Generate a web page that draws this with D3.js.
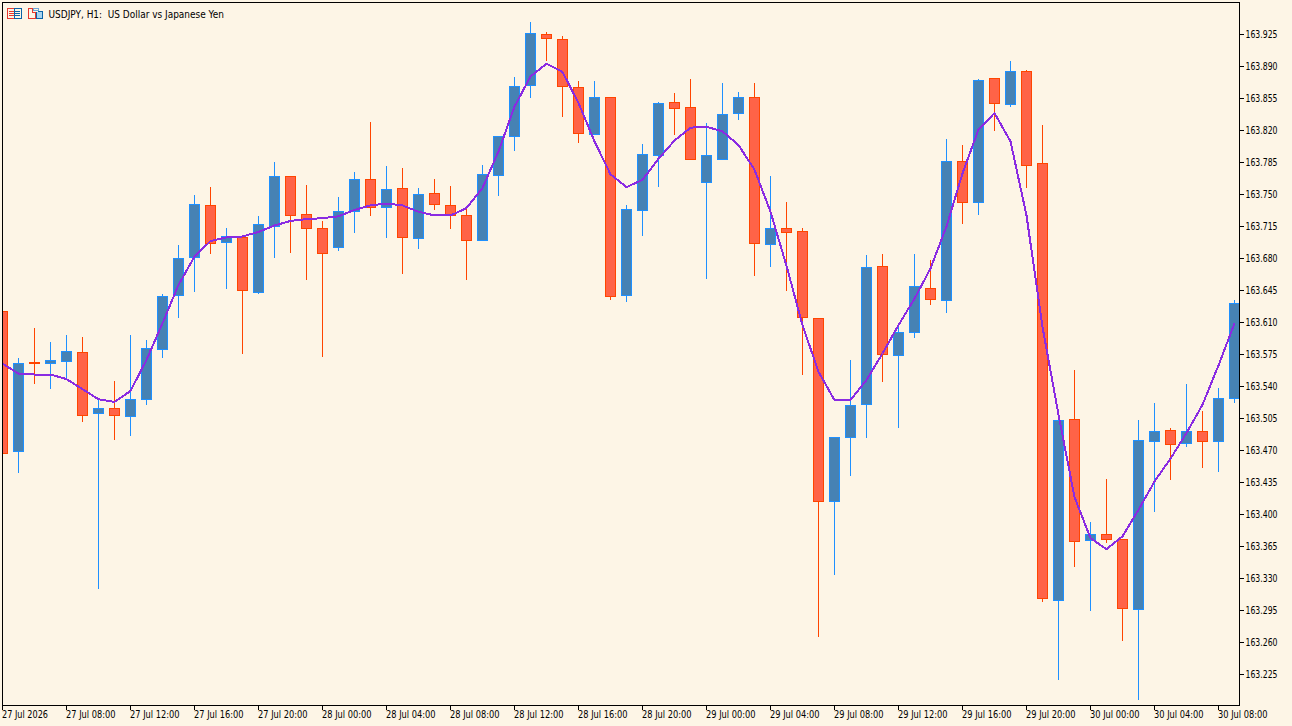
<!DOCTYPE html>
<html>
<head>
  <meta charset="utf-8">
  <title>USDJPY, H1</title>
  <script src="https://d3js.org/d3.v7.min.js"></script>
  <style>
    html, body { margin: 0; padding: 0; background: #fdf5e6; overflow: hidden; }
    svg { display: block; }
    text { font-family: "DejaVu Sans", sans-serif; font-size: 10px; fill: #000; white-space: pre; }
    .axis path, .axis line { stroke: #000; shape-rendering: crispEdges; }
  </style>
</head>
<body>
  <svg id="chart" width="1292" height="726"></svg>
  <script>
    var title = 'USDJPY, H1:  US Dollar vs Japanese Yen';

    // one bar per hour, oldest first
    var open = [163.621,163.468,163.565,163.564,163.566,163.576,163.509,163.515,163.506,163.525,163.579,163.638,163.680,163.737,163.696,163.702,163.642,163.714,163.769,163.727,163.712,163.691,163.730,163.765,163.735,163.755,163.701,163.750,163.737,163.726,163.699,163.770,163.812,163.868,163.924,163.918,163.866,163.815,163.855,163.638,163.731,163.792,163.850,163.844,163.762,163.787,163.838,163.855,163.694,163.712,163.708,163.613,163.413,163.483,163.519,163.670,163.573,163.598,163.646,163.633,163.785,163.740,163.876,163.847,163.883,163.783,163.305,163.503,163.371,163.377,163.372,163.295,163.479,163.491,163.477,163.490,163.479,163.526];
    var high = [163.621,163.570,163.602,163.587,163.595,163.593,163.524,163.544,163.595,163.589,163.640,163.693,163.748,163.757,163.712,163.702,163.725,163.784,163.769,163.759,163.719,163.746,163.773,163.828,163.780,163.777,163.755,163.765,163.758,163.734,163.781,163.812,163.877,163.937,163.926,163.922,163.872,163.872,163.855,163.737,163.804,163.850,163.859,163.875,163.827,163.870,163.861,163.870,163.769,163.740,163.712,163.613,163.483,163.567,163.682,163.683,163.608,163.683,163.677,163.809,163.803,163.875,163.876,163.894,163.885,163.824,163.509,163.556,163.390,163.437,163.372,163.502,163.520,163.493,163.541,163.512,163.537,163.633];
    var low = [163.466,163.445,163.542,163.537,163.549,163.501,163.318,163.481,163.485,163.519,163.571,163.614,163.643,163.684,163.646,163.575,163.641,163.680,163.685,163.656,163.572,163.688,163.707,163.726,163.702,163.663,163.690,163.733,163.712,163.656,163.699,163.748,163.797,163.855,163.896,163.834,163.806,163.815,163.634,163.632,163.704,163.758,163.815,163.787,163.657,163.787,163.831,163.660,163.670,163.644,163.552,163.266,163.333,163.442,163.483,163.544,163.494,163.593,163.629,163.620,163.717,163.727,163.819,163.845,163.757,163.304,163.218,163.342,163.294,163.368,163.261,163.197,163.402,163.437,163.473,163.450,163.446,163.521];
    var close = [163.466,163.564,163.564,163.567,163.577,163.507,163.515,163.507,163.525,163.580,163.637,163.679,163.738,163.695,163.703,163.644,163.716,163.769,163.726,163.712,163.684,163.730,163.765,163.735,163.754,163.702,163.749,163.738,163.726,163.699,163.771,163.812,163.867,163.925,163.920,163.867,163.816,163.855,163.637,163.733,163.793,163.848,163.843,163.787,163.792,163.836,163.855,163.695,163.712,163.707,163.614,163.413,163.483,163.518,163.669,163.574,163.598,163.648,163.634,163.785,163.740,163.874,163.848,163.883,163.781,163.307,163.502,163.369,163.377,163.372,163.296,163.480,163.490,163.476,163.490,163.479,163.526,163.630];
    // moving average drawn over the candles
    var ma = [163.564,163.553,163.552,163.552,163.547,163.536,163.525,163.522,163.534,163.568,163.608,163.650,163.681,163.698,163.702,163.703,163.708,163.715,163.720,163.722,163.723,163.725,163.732,163.737,163.739,163.737,163.730,163.726,163.726,163.734,163.756,163.796,163.845,163.878,163.892,163.883,163.849,163.807,163.771,163.757,163.765,163.788,163.808,163.822,163.823,163.818,163.803,163.776,163.730,163.671,163.606,163.555,163.524,163.524,163.546,163.575,163.606,163.635,163.668,163.714,163.772,163.820,163.838,163.807,163.726,163.604,163.508,163.418,163.373,163.361,163.375,163.404,163.435,163.460,163.488,163.519,163.562,163.608];

    var priceTicks = [163.925,163.890,163.855,163.820,163.785,163.750,163.715,163.680,163.645,163.610,163.575,163.540,163.505,163.470,163.435,163.400,163.365,163.330,163.295,163.260,163.225];
    var timeTicks = ['27 Jul 2026','27 Jul 08:00','27 Jul 12:00','27 Jul 16:00','27 Jul 20:00','28 Jul 00:00','28 Jul 04:00','28 Jul 08:00','28 Jul 12:00','28 Jul 16:00','28 Jul 20:00','29 Jul 00:00','29 Jul 04:00','29 Jul 08:00','29 Jul 12:00','29 Jul 16:00','29 Jul 20:00','30 Jul 00:00','30 Jul 04:00','30 Jul 08:00'];

    var left = 2, top_ = 2, right = 1239, bottom = 705;

    var svg = d3.select('#chart');
    var x = d3.scaleLinear().domain([0, 77]).range([2, 1234]);
    var y = d3.scaleLinear().domain([163.225, 163.925]).range([673.5, 33.5]);

    // MT5 draws on whole pixels
    function snap(v) { return Math.round(v - 0.5) + 0.5; }

    svg.append('clipPath').attr('id', 'plot')
      .append('rect')
        .attr('x', left + 1).attr('y', top_ + 1)
        .attr('width', right - left - 1).attr('height', bottom - top_ - 1);

    var bars = open.map(function(o, i) {
      return {i: i, open: o, high: high[i], low: low[i], close: close[i], up: close[i] >= o};
    });

    var plot = svg.append('g').attr('clip-path', 'url(#plot)').attr('shape-rendering', 'crispEdges');

    plot.selectAll('line.wick').data(bars).enter().append('line')
        .attr('class', 'wick')
        .attr('x1', function(d) { return x(d.i) + 0.5; })
        .attr('x2', function(d) { return x(d.i) + 0.5; })
        .attr('y1', function(d) { return snap(y(d.high)) - 0.5; })
        .attr('y2', function(d) { return snap(y(d.low)) + 0.5; })
        .attr('stroke', function(d) { return d.up ? '#1e90ff' : '#ff4500'; });

    plot.selectAll('rect.body').data(bars).enter().append('rect')
        .attr('class', 'body')
        .attr('x', function(d) { return x(d.i) - 4.5; })
        .attr('width', 10)
        .attr('y', function(d) { return snap(y(Math.max(d.open, d.close))); })
        .attr('height', function(d) { return snap(y(Math.min(d.open, d.close))) - snap(y(Math.max(d.open, d.close))); })
        .attr('fill', function(d) { return d.up ? '#4682b4' : '#ff6347'; })
        .attr('stroke', function(d) { return d.up ? '#1e90ff' : '#ff4500'; });

    var line = d3.line()
        .x(function(d, i) { return x(i) + 0.5; })
        .y(function(d) { return y(d); });

    plot.append('path')
        .datum(ma)
        .attr('d', line)
        .attr('fill', 'none')
        .attr('stroke', '#8a2be2')
        .attr('stroke-width', 2);

    // frame
    svg.append('path')
        .attr('d', 'M' + (left + 0.5) + ',' + (bottom + 0.5) + 'V' + (top_ + 0.5) + 'H' + (right + 0.5))
        .attr('fill', 'none').attr('stroke', '#000').attr('shape-rendering', 'crispEdges');

    var axisY = d3.axisRight(y)
        .tickValues(priceTicks)
        .tickSize(4)
        .tickPadding(2)
        .tickFormat(d3.format('.3f'));

    svg.append('g')
        .attr('class', 'axis')
        .attr('transform', 'translate(' + (right + 0.5) + ',0)')
        .call(axisY)
        .call(function(g) { g.select('.domain').attr('d', 'M0,' + top_ + 'V' + (bottom + 1)); })
        .selectAll('text')
          .attr('dy', '0.37em')
          .attr('textLength', 32).attr('lengthAdjust', 'spacingAndGlyphs');

    var xTime = d3.scaleLinear().domain([0, timeTicks.length - 1]).range([x(0), x(76)]);

    var axisX = d3.axisBottom(xTime)
        .tickValues(d3.range(timeTicks.length))
        .tickSize(4)
        .tickPadding(1)
        .tickFormat(function(d) { return timeTicks[d]; });

    svg.append('g')
        .attr('class', 'axis')
        .attr('transform', 'translate(0,' + (bottom + 0.5) + ')')
        .call(axisX)
        .call(function(g) { g.select('.domain').attr('d', 'M' + left + ',0H' + (right + 1)); })
        .selectAll('text')
          .style('text-anchor', 'start')
          .attr('x', -0.5)
          .attr('textLength', function(d) { return d === 0 ? 46 : 49.5; })
          .attr('lengthAdjust', 'spacingAndGlyphs');

    // chart title and the two little toolbar icons
    svg.append('text')
        .attr('x', 48.5).attr('y', 17.5)
        .attr('textLength', 175.5).attr('lengthAdjust', 'spacingAndGlyphs')
        .text(title);

    var icons = svg.append('g').attr('shape-rendering', 'crispEdges').attr('fill', 'none');
    icons.append('rect').attr('x', 7.5).attr('y', 8.5).attr('width', 7).attr('height', 10).attr('stroke', '#e8382d');
    icons.append('rect').attr('x', 14.5).attr('y', 8.5).attr('width', 7).attr('height', 10).attr('stroke', '#0a64a8');
    [11, 13, 15].forEach(function(r) {
      icons.append('line').attr('x1', 9).attr('x2', 14).attr('y1', r + 0.5).attr('y2', r + 0.5).attr('stroke', '#e8382d');
      icons.append('line').attr('x1', 15).attr('x2', 20).attr('y1', r + 0.5).attr('y2', r + 0.5).attr('stroke', '#0a64a8');
    });
    icons.append('path').attr('d', 'M28.5,8.5H32.5V12.5H35.5V18.5H28.5Z').attr('stroke', '#e8382d');
    icons.append('path').attr('d', 'M37.5,11.5H42.5V18.5H36.5V11.5').attr('stroke', '#0a64a8').attr('fill', '#a8d4f0');
    icons.append('rect').attr('x', 33.5).attr('y', 8.5).attr('width', 5).attr('height', 2).attr('stroke', '#6aa8d8');
  </script>
</body>
</html>
